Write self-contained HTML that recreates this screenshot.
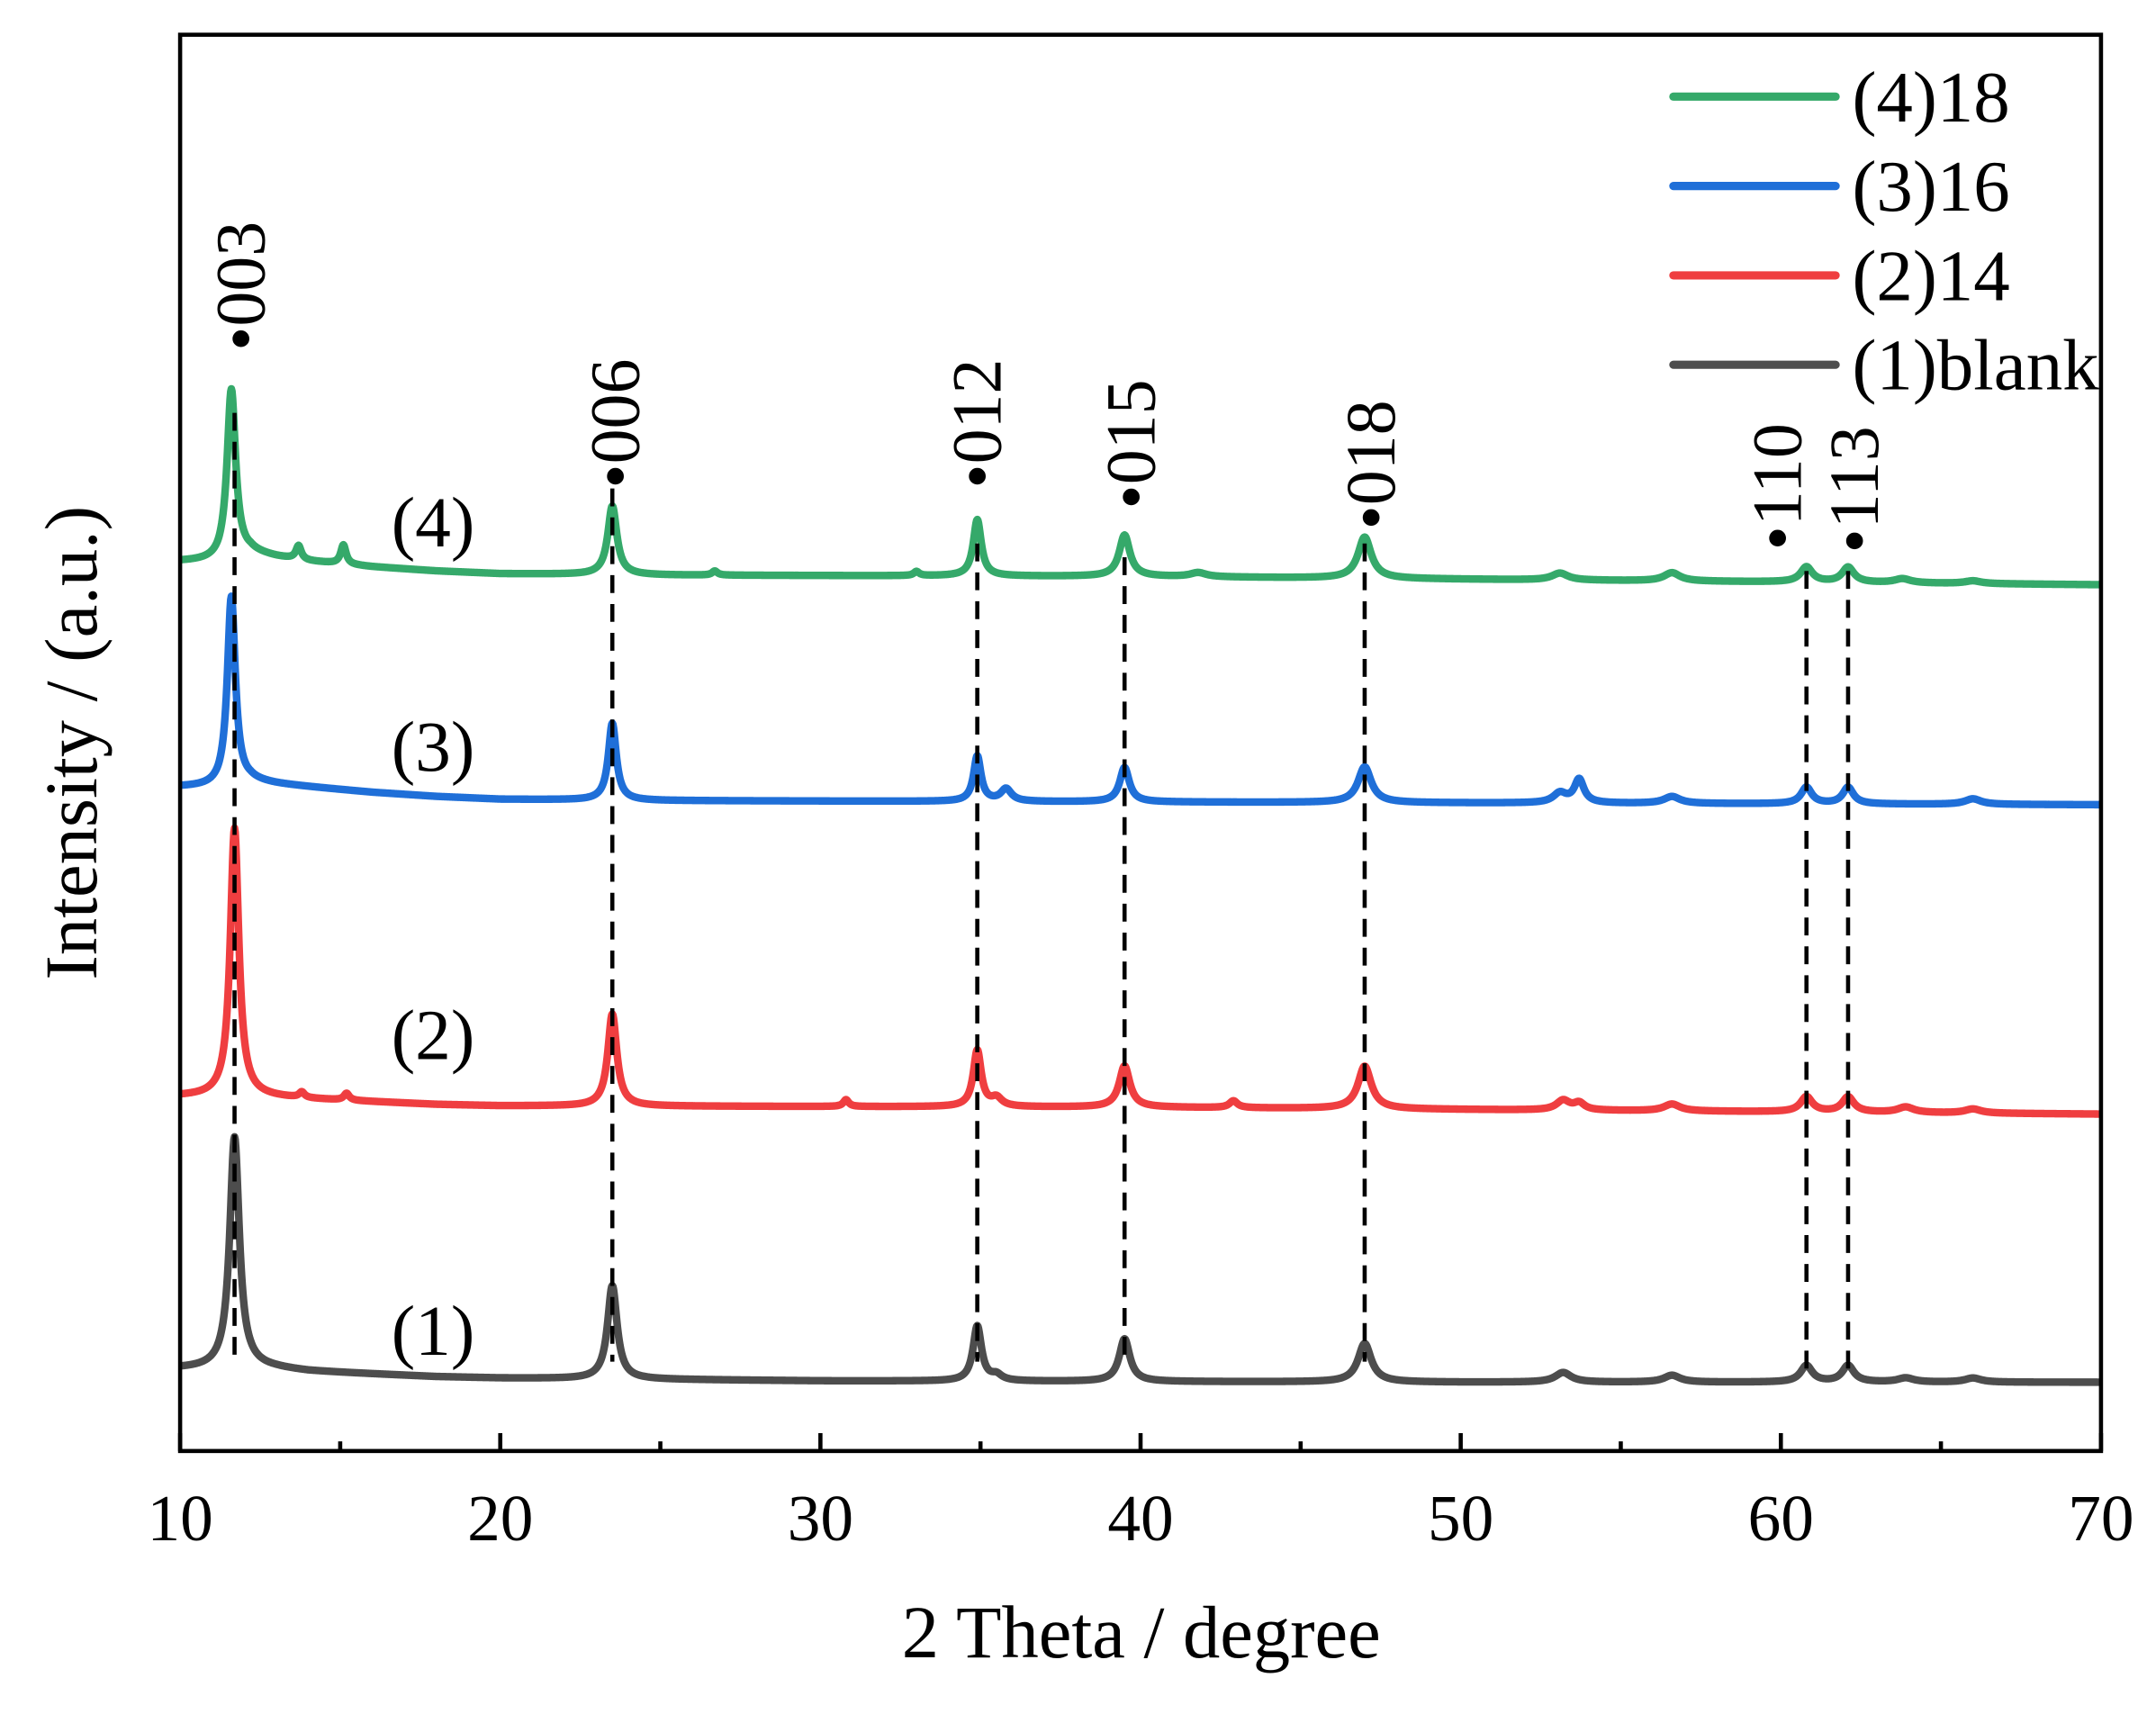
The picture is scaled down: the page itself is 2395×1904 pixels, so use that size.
<!DOCTYPE html>
<html><head><meta charset="utf-8"><style>html,body{margin:0;padding:0;background:#fff}svg{display:block}text{font-family:"Liberation Serif",serif;fill:#000}</style></head>
<body>
<svg id="chart" width="2395" height="1904" viewBox="0 0 1568 1246" xmlns="http://www.w3.org/2000/svg">
<g id="plot"></g>
</svg>
<script>
// ---- data ----
const xTicks = [10,20,30,40,50,60,70];
const xMinor = [15,25,35,45,55,65];
const seriesNames = ["(1)blank","(2)14","(3)16","(4)18"];
const seriesShort = ["(1)","(2)","(3)","(4)"];
const seriesColors = ["#4d4d4d","#ef3e40","#1f6fd8","#35a96a"];
// baseline knots [2theta, intensity]
const base1 = [[10,60],[11.2,60],[12.2,61],[13,60],[14,58],[16,56],[18,54],[20,53],[25,52],[30,51],[50,50],[70,50]];
const base2 = [[10,258],[11.2,258],[12.2,258],[14,256],[16,254],[18,252],[20,251],[40,250],[70,245]];
const base3 = [[10,483],[11.2,483],[12.2,487],[13,485],[14,483],[16,479],[18,476],[20,474],[25,473],[40,472],[70,470]];
const base4 = [[10,647],[11.2,647],[12.2,653],[13,650],[14,647],[16,643],[18,640],[20,638],[25,637],[40,636],[70,630]];
// peaks [position, height, half-width]
const peaks1 = [[11.7,168,0.18],[23.5,68,0.18],[34.9,40,0.16],[35.5,4,0.2],[39.5,31,0.2],[47.0,28,0.25],[53.2,7,0.3],[56.6,5,0.3],[60.8,12,0.22],[62.1,12,0.22],[63.9,3,0.3],[66,3,0.3]];
const peaks2 = [[11.7,195,0.16],[13.8,4,0.1],[15.2,5,0.1],[23.5,67,0.17],[30.8,5,0.1],[34.9,41,0.15],[35.5,6,0.2],[39.5,30,0.2],[42.9,5,0.15],[47.0,31,0.25],[53.2,7,0.25],[53.7,5,0.2],[56.6,5,0.3],[60.8,11,0.22],[62.1,11,0.22],[63.9,4,0.3],[66,3,0.3]];
const peaks3 = [[11.6,137,0.15],[23.5,56,0.15],[34.9,33,0.14],[35.8,9,0.2],[39.5,25,0.18],[47.0,26,0.25],[53.1,7,0.25],[53.7,17,0.18],[56.6,5,0.3],[60.8,12,0.2],[62.1,12,0.2],[66,4,0.3]];
const peaks4 = [[11.6,123,0.16],[13.7,10,0.1],[15.1,14,0.1],[23.5,50,0.17],[26.7,3,0.1],[33,3,0.1],[34.9,41,0.15],[39.5,30,0.2],[41.8,3,0.3],[47.0,30,0.25],[53.1,5,0.3],[56.6,6,0.3],[60.8,11,0.22],[62.1,11,0.22],[63.8,3,0.3],[66,2,0.3]];
const bases = [base1,base2,base3,base4];
const peakSets = [peaks1,peaks2,peaks3,peaks4];
// reflections
const hklLabels = ["003","006","012","015","018","110","113"];
const hklPos = [11.7,23.5,34.9,39.5,47.0,60.8,62.1];
const hklLabelPos = [11.9,23.6,34.9,39.7,47.2,59.9,62.3];
const hklLabelInt = [800,700,700,685,670,655,653];
const hklLineTop = [755,700,660,650,660,640,640];
const hklLineBottom = [65,65,65,65,65,60,60];
const labelInt = [70,285,495,658];

// ---- scales ----
const L=131,R=1528,T=25,B=1055;
const X = v => L+(v-10)*(R-L)/60;
const Y = v => B - v;
const NS="http://www.w3.org/2000/svg";
const g=document.getElementById('plot');
function mk(tag,attrs,parent){const e=document.createElementNS(NS,tag);for(const k in attrs)e.setAttribute(k,attrs[k]);(parent||g).appendChild(e);return e;}
function baseAt(b,x){for(let i=0;i<b.length-1;i++){if(x>=b[i][0]&&x<=b[i+1][0]){const t=(x-b[i][0])/(b[i+1][0]-b[i][0]);return b[i][1]+t*(b[i+1][1]-b[i][1]);}}return b[b.length-1][1];}

// series
for(let s=0;s<4;s++){
  let d="";
  for(let x=10;x<=70.0001;x+=0.02){
    let v=baseAt(bases[s],x);
    for(const p of peakSets[s]){const u=(x-p[0])/p[2];v+=p[1]/(1+u*u);}
    d+=(d?"L":"M")+X(x).toFixed(2)+","+Y(v).toFixed(2);
  }
  const path=mk('path',{d:d,fill:'none',stroke:seriesColors[s],'stroke-width':5.5,'stroke-linejoin':'round'});
  
  
  const t=mk('text',{x:X(17.9),y:Y(labelInt[s]),'font-size':52,'text-anchor':'middle'});
  t.textContent=seriesShort[s];
  
  
}
// dashed reference lines and hkl labels
for(let i=0;i<hklPos.length;i++){
  const ln=mk('line',{x1:X(hklPos[i]),x2:X(hklPos[i]),y1:Y(hklLineTop[i]),y2:Y(hklLineBottom[i]),stroke:'#000','stroke-width':3,'stroke-dasharray':'13 8'});
  
  
  const tx=X(hklLabelPos[i])+17, ty=Y(hklLabelInt[i]);
  const t=mk('text',{x:tx,y:ty,'font-size':51,transform:'rotate(-90 '+tx+' '+ty+')'});
  t.textContent='•'+hklLabels[i];
  
  
}
// frame
const fr=mk('rect',{x:L,y:T,width:R-L,height:B-T,fill:'none',stroke:'#000','stroke-width':3});


// ticks
for(const v of xTicks){
  const tk=mk('line',{x1:X(v),x2:X(v),y1:B,y2:B-13,stroke:'#000','stroke-width':3});
  
  
  const t=mk('text',{x:X(v),y:1120,'font-size':48,'text-anchor':'middle'});
  t.textContent=v;
  
  
}
for(const v of xMinor){
  const tk=mk('line',{x1:X(v),x2:X(v),y1:B,y2:B-7,stroke:'#000','stroke-width':3});
  
  
}
// axis titles
const xt=mk('text',{x:830,y:1205,'font-size':54,'text-anchor':'middle'});
xt.textContent='2 Theta / degree';


const yt=mk('text',{x:70,y:540,'font-size':54,'text-anchor':'middle',transform:'rotate(-90 70 540)'});
yt.textContent='Intensity / (a.u.)';


// legend
const lg=mk('g',{});


for(let k=0;k<4;k++){
  const s=3-k, y=70+k*65;
  const l=mk('line',{x1:1217,x2:1335,y1:y,y2:y,stroke:seriesColors[s],'stroke-width':6,'stroke-linecap':'round'},lg);
  
  
  const t=mk('text',{x:1347,y:y+18,'font-size':53},lg);
  t.textContent=seriesNames[s];
  
  
}
</script>
</body></html>
